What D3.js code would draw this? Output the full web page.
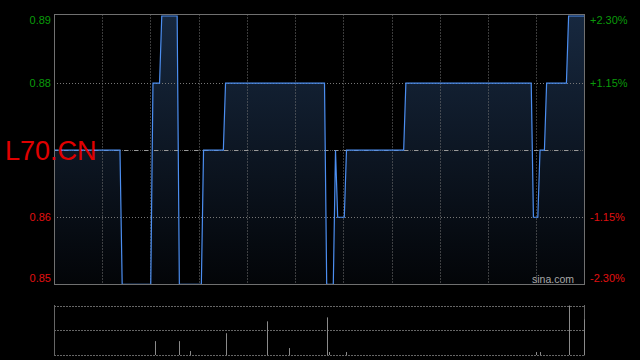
<!DOCTYPE html>
<html>
<head>
<meta charset="utf-8">
<script src="https://cdn.jsdelivr.net/npm/d3@7"></script>
<style>
  html, body { margin: 0; padding: 0; background: #000; }
  #chart { width: 640px; height: 360px; }
  text { font-family: "Liberation Sans", Arial, sans-serif; }
</style>
</head>
<body>
<div id="chart"></div>
<script>
// price step points (minute index, price)
var priceMinutes = [0, 30, 31, 44, 45, 48, 49, 56, 57, 67, 68, 77, 78, 123, 124, 127, 128, 129, 132, 133, 159, 160, 217, 218, 220, 221, 223, 224, 233, 234, 241];
var prices       = [0.87, 0.87, 0.85, 0.85, 0.88, 0.88, 0.89, 0.89, 0.85, 0.85, 0.87, 0.87, 0.88, 0.88, 0.85, 0.85, 0.87, 0.86, 0.86, 0.87, 0.87, 0.88, 0.88, 0.86, 0.86, 0.87, 0.87, 0.88, 0.88, 0.89, 0.89];

// volume spikes (minute index, relative volume)
var volMinutes = [46, 57, 62, 78, 97, 107, 124, 125, 133, 219, 221, 234, 241];
var volumes    = [28, 28, 8, 44, 68, 14, 76, 6, 6, 6, 6, 100, 72];

var prevClose = 0.87;
var leftTicks = [0.89, 0.88, 0.86, 0.85];
var rightTicks = ['+2.30%', '+1.15%', '-1.15%', '-2.30%'];
var title = 'L70.CN';

var width = 640, height = 360;
var plotLeft = 54, plotRight = 584.5;
var plotTop = 14.5, plotBottom = 284.5;
var vTop = 305.5, vBottom = 355;

var svg = d3.select('#chart').append('svg')
    .attr('width', width)
    .attr('height', height)
    .style('background', '#000');

var x = d3.scaleLinear().domain([0, 241]).range([plotLeft, plotRight - 0.5]);
var y = d3.scaleLinear().domain([0.85, 0.89]).range([284.3, 16]);
var v = d3.scaleLinear().domain([0, 100]).range([vBottom, vTop]);

// gradient under the line
var grad = svg.append('defs').append('linearGradient')
    .attr('id', 'fillGrad')
    .attr('gradientUnits', 'userSpaceOnUse')
    .attr('x1', 0).attr('y1', 15).attr('x2', 0).attr('y2', 284);
grad.append('stop').attr('offset', '0%').attr('stop-color', '#17283f');
grad.append('stop').attr('offset', '100%').attr('stop-color', '#030508');

var points = priceMinutes.map(function (m, i) { return [m, prices[i]]; });

svg.append('path')
    .datum(points)
    .attr('fill', 'url(#fillGrad)')
    .attr('d', d3.area()
        .x(function (d) { return x(d[0]); })
        .y0(y(0.85))
        .y1(function (d) { return y(d[1]); }));

// vertical grid lines (11 sections)
var sections = d3.scaleLinear().domain([0, 11]).range([plotLeft, plotRight]);
d3.range(1, 11).forEach(function (i) {
  var gx = Math.round(sections(i)) + 0.5;
  svg.append('line')
      .attr('x1', gx).attr('x2', gx).attr('y1', plotTop).attr('y2', plotBottom)
      .attr('stroke', '#777').attr('stroke-dasharray', '1,2');
});

// horizontal grid lines
[0.88, 0.86].forEach(function (p) {
  var gy = Math.round(y(p)) + 0.5;
  svg.append('line')
      .attr('x1', plotLeft).attr('x2', plotRight).attr('y1', gy).attr('y2', gy)
      .attr('stroke', '#777').attr('stroke-dasharray', '1,2');
});

// previous close line
var cy = Math.round(y(prevClose)) + 0.5;
svg.append('line')
    .attr('x1', plotLeft).attr('x2', plotRight).attr('y1', cy).attr('y2', cy)
    .attr('stroke', '#555').attr('stroke-dasharray', '1,1');
svg.append('line')
    .attr('x1', plotLeft).attr('x2', plotRight).attr('y1', cy).attr('y2', cy)
    .attr('stroke', '#999').attr('stroke-dasharray', '4,6');

svg.append('path')
    .datum(points)
    .attr('fill', 'none')
    .attr('stroke', '#4c8ef0')
    .attr('stroke-width', 1.2)
    .attr('d', d3.line()
        .x(function (d) { return x(d[0]); })
        .y(function (d) { return y(d[1]); }));

// plot frame
svg.append('rect')
    .attr('x', plotLeft + 0.5).attr('y', plotTop)
    .attr('width', plotRight - plotLeft - 0.5).attr('height', plotBottom - plotTop)
    .attr('fill', 'none').attr('stroke', '#707070');

// left price labels
var labelY = function (i) {
  var p = y(leftTicks[i]);
  if (i === 0) return p + 4;
  if (i === leftTicks.length - 1) return p - 6;
  return p;
};
svg.selectAll('.lt').data(leftTicks).enter().append('text')
    .attr('x', 51)
    .attr('y', function (d, i) { return labelY(i); })
    .attr('dy', '0.35em')
    .attr('text-anchor', 'end')
    .attr('font-size', 11)
    .attr('fill', function (d) { return d > prevClose ? '#0a9a0a' : '#e01010'; })
    .text(function (d) { return d.toFixed(2); });

svg.selectAll('.rt').data(rightTicks).enter().append('text')
    .attr('x', 590)
    .attr('y', function (d, i) { return labelY(i); })
    .attr('dy', '0.35em')
    .attr('font-size', 11)
    .attr('fill', function (d) { return d.charAt(0) === '+' ? '#0a9a0a' : '#e01010'; })
    .text(function (d) { return d; });

svg.append('text')
    .attr('x', 5).attr('y', 160)
    .attr('font-size', 27)
    .attr('fill', '#e00000')
    .text(title);

svg.append('text')
    .attr('x', 532).attr('y', 283)
    .attr('font-size', 10.5)
    .attr('fill', '#a8a8a8')
    .text('sina.com');

// volume panel
[vTop, (vTop + vBottom) / 2, vBottom].forEach(function (gy) {
  var yy = Math.round(gy) + 0.5;
  svg.append('line')
      .attr('x1', plotLeft).attr('x2', plotRight).attr('y1', yy).attr('y2', yy)
      .attr('stroke', '#666').attr('stroke-dasharray', '2,1');
});
[plotLeft + 0.5, plotRight].forEach(function (bx) {
  svg.append('line')
      .attr('x1', bx).attr('x2', bx).attr('y1', vTop - 0.5).attr('y2', vBottom + 0.5)
      .attr('stroke', '#666');
});

svg.selectAll('.vol').data(volMinutes).enter().append('line')
    .attr('class', 'vol')
    .attr('x1', function (d) { return Math.round(x(d)) + 0.5; })
    .attr('x2', function (d) { return Math.round(x(d)) + 0.5; })
    .attr('y1', v(0))
    .attr('y2', function (d, i) { return v(volumes[i]); })
    .attr('stroke', '#8a8a8a');
</script>
</body>
</html>
